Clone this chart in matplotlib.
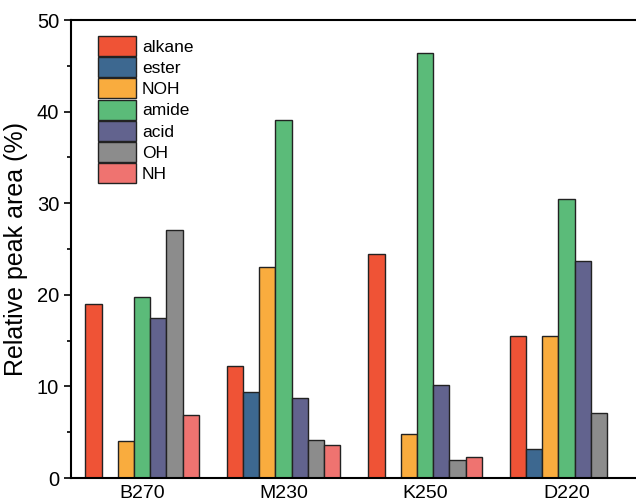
import numpy as np
import matplotlib
matplotlib.use("Agg")
import matplotlib.pyplot as plt
from matplotlib.ticker import MultipleLocator

plt.rcParams['font.family'] = ['Liberation Sans', 'DejaVu Sans']

samples = ['B270', 'M230', 'K250', 'D220']
groups = ['alkane', 'ester', 'NOH', 'amide', 'acid', 'OH', 'NH']

alkane = [19.0, 12.2, 24.4, 15.5]
ester = [0.0, 9.4, 0.0, 3.2]
noh = [4.0, 23.0, 4.8, 15.5]
amide = [19.8, 39.1, 46.4, 30.5]
acid = [17.5, 8.7, 10.2, 23.7]
oh = [27.1, 4.2, 2.0, 7.1]
nh = [6.9, 3.6, 2.3, 0.0]

colors = ['#EF5336', '#3D6890', '#F9AC3E', '#5BBB79', '#62638E', '#8C8C8C', '#EF7370']
series = [alkane, ester, noh, amide, acid, oh, nh]

fig = plt.figure(figsize=(6.36, 5.04), dpi=100)
ax = fig.add_axes([71 / 636, 26 / 504, 1 - 71 / 636 + 0.002, 458 / 504])

x = np.arange(len(samples))
w = 0.1145
for i, (vals, name, c) in enumerate(zip(series, groups, colors)):
    vals = np.array(vals)
    pos = x + (i - 3) * w
    keep = vals > 0
    ax.bar(pos[keep], vals[keep], width=w, color=c, edgecolor='#222222',
           linewidth=1.0, label=name)

ax.set_xlim(-0.502, 3.5)
ax.set_ylim(0, 50)
ax.set_xticks(x)
ax.set_xticklabels(samples, fontsize=14)
ax.tick_params(axis='x', length=0, pad=5)
ax.yaxis.set_major_locator(MultipleLocator(10))
ax.yaxis.set_minor_locator(MultipleLocator(5))
ax.tick_params(axis='y', which='major', direction='out', length=5, width=1.2, labelsize=14.5)
ax.tick_params(axis='y', which='minor', direction='out', length=3, width=1.2)
ax.set_ylabel('Relative peak area (%)', fontsize=18, labelpad=6)

for s in ['left', 'bottom', 'top']:
    ax.spines[s].set_linewidth(1.5)
ax.spines['right'].set_visible(False)

ax.legend(loc='upper left', bbox_to_anchor=(96 / 636, 1 - 34 / 504),
          bbox_transform=fig.transFigure, frameon=False,
          fontsize=12.5, handlelength=2.2, handleheight=1.4,
          labelspacing=0.07, handletextpad=0.35, borderaxespad=0, borderpad=0.1)

fig.savefig('out.png', dpi=100)
